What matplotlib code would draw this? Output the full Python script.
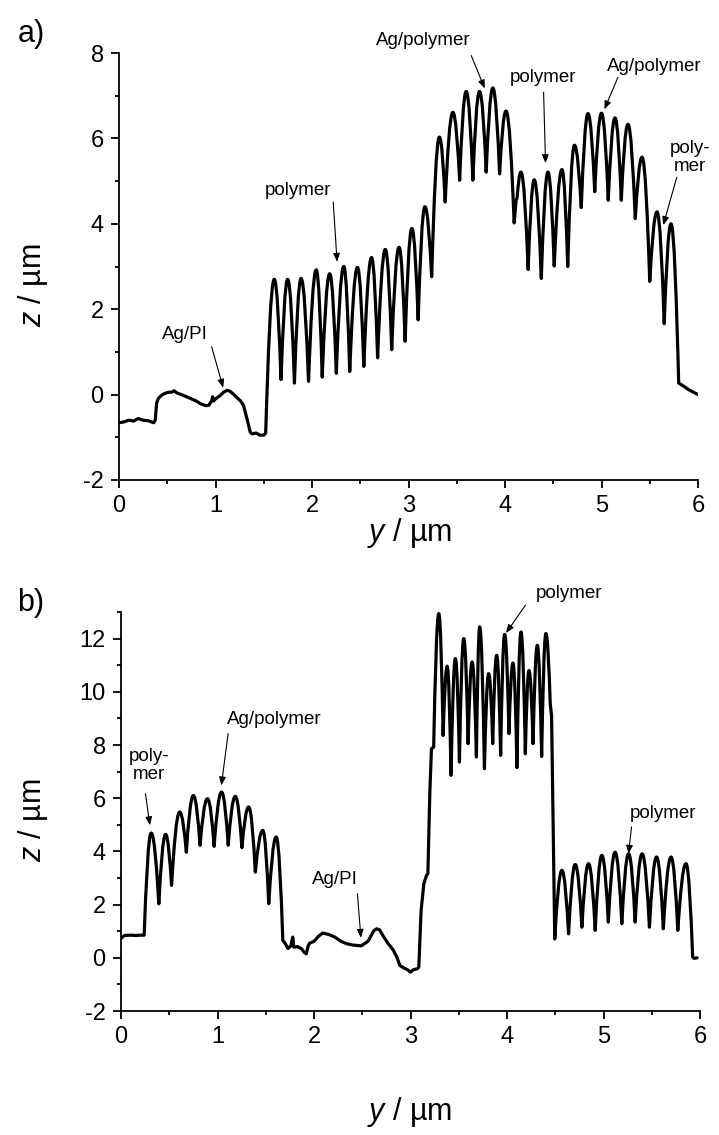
import matplotlib
matplotlib.use("Agg")
import matplotlib.pyplot as plt
from matplotlib.path import Path
from matplotlib.patches import PathPatch
from matplotlib.ticker import MultipleLocator

plt.rcParams['font.family'] = ['Liberation Sans', 'DejaVu Sans']
plt.rcParams['axes.unicode_minus'] = False
plt.rcParams['mathtext.fontset'] = 'custom'
plt.rcParams['mathtext.it'] = 'Liberation Sans:italic'
plt.rcParams['mathtext.rm'] = 'Liberation Sans'

# ---------------- data: panel a (profile vertices) ----------------
a_y = [0.00, 0.05, 0.10, 0.15, 0.20, 0.25, 0.30, 0.36, 0.375, 0.39, 0.41, 0.45, 0.50, 0.55,
       0.57, 0.60, 0.70, 0.80, 0.85, 0.90, 0.93, 0.96, 0.97, 0.98, 1.00, 1.05, 1.08, 1.12,
       1.15, 1.20, 1.26, 1.29, 1.33, 1.36, 1.38, 1.42, 1.46, 1.50, 1.52,
       1.609, 1.679, 1.748, 1.818, 1.887, 1.964, 2.044, 2.106, 2.183, 2.252, 2.329, 2.391,
       2.471, 2.537, 2.617, 2.680, 2.760, 2.826, 2.902, 2.965, 3.035, 3.100, 3.170, 3.240,
       3.320, 3.380, 3.460, 3.530, 3.598, 3.667, 3.736, 3.805, 3.874, 3.944, 4.010, 4.095,
       4.115, 4.125, 4.165, 4.240, 4.303, 4.376, 4.445, 4.510, 4.590, 4.650, 4.720, 4.790,
       4.860, 4.930, 5.000, 5.070, 5.140, 5.205, 5.274, 5.350, 5.420, 5.500, 5.575, 5.650,
       5.720, 5.800, 5.850, 5.900, 5.950, 6.000]
a_z = [-0.66, -0.64, -0.60, -0.62, -0.56, -0.60, -0.61, -0.66, -0.60, -0.20, -0.08, 0.00, 0.05, 0.06,
       0.09, 0.04, -0.05, -0.15, -0.22, -0.26, -0.25, -0.15, -0.05, -0.15, -0.10, -0.02, 0.05, 0.10,
       0.08, -0.02, -0.15, -0.25, -0.60, -0.88, -0.92, -0.90, -0.95, -0.95, -0.90,
       2.70, 0.35, 2.70, 0.27, 2.72, 0.31, 2.92, 0.41, 2.83, 0.50, 3.00, 0.54,
       2.98, 0.66, 3.21, 0.86, 3.40, 1.05, 3.45, 1.25, 3.89, 1.75, 4.40, 2.76,
       6.03, 4.51, 6.61, 5.02, 7.10, 5.02, 7.10, 5.21, 7.18, 5.17, 6.64, 4.02,
       4.55, 4.60, 5.21, 2.93, 5.03, 2.72, 5.21, 3.01, 5.27, 3.00, 5.84, 4.38,
       6.58, 4.75, 6.59, 4.55, 6.48, 4.55, 6.33, 4.12, 5.56, 2.65, 4.28, 1.66,
       4.00, 0.27, 0.20, 0.12, 0.06, 0.00]

# ---------------- data: panel b ----------------
b_y = [0.00, 0.02, 0.04, 0.10, 0.15, 0.20, 0.24,
       0.3125, 0.392, 0.462, 0.524, 0.608, 0.677, 0.750, 0.819, 0.896, 0.965, 1.042, 1.111,
       1.184, 1.253, 1.323, 1.392, 1.469, 1.531, 1.608, 1.677,
       1.70, 1.73, 1.76, 1.78, 1.79, 1.83, 1.87, 1.90, 1.92, 1.94, 1.955, 2.00, 2.05, 2.09,
       2.15, 2.215, 2.28, 2.337, 2.40, 2.49, 2.56, 2.62, 2.65, 2.68, 2.72, 2.77, 2.82, 2.858,
       2.89, 2.93, 2.97, 3.00, 3.03, 3.07, 3.086, 3.11, 3.138, 3.166, 3.18, 3.20, 3.217, 3.24,
       3.293, 3.338, 3.380, 3.420, 3.465, 3.507, 3.552, 3.597, 3.638, 3.683, 3.717, 3.766,
       3.810, 3.852, 3.893, 3.934, 3.976, 4.020, 4.062, 4.103, 4.145, 4.190, 4.228, 4.270,
       4.314, 4.359, 4.403, 4.448, 4.462, 4.495,
       4.569, 4.638, 4.707, 4.776, 4.845, 4.914, 4.983, 5.050, 5.120, 5.190, 5.260, 5.328,
       5.400, 5.476, 5.550, 5.620, 5.700, 5.770, 5.855, 5.924, 5.94, 5.97]
b_z = [0.72, 0.80, 0.84, 0.85, 0.84, 0.85, 0.85,
       4.69, 2.03, 4.64, 2.72, 5.48, 3.97, 6.10, 4.23, 5.98, 4.19, 6.23, 4.23,
       6.07, 4.14, 5.67, 3.22, 4.79, 2.03, 4.54, 0.65,
       0.55, 0.35, 0.45, 0.78, 0.40, 0.42, 0.34, 0.20, 0.15, 0.45, 0.55, 0.62, 0.82, 0.93,
       0.88, 0.78, 0.62, 0.53, 0.48, 0.45, 0.62, 1.02, 1.09, 1.05, 0.80, 0.53, 0.30, 0.03,
       -0.29, -0.38, -0.45, -0.54, -0.45, -0.41, -0.35, 1.78, 2.78, 3.10, 3.16, 6.17, 7.86, 7.92,
       12.94, 8.36, 10.96, 6.86, 11.25, 7.36, 12.00, 8.05, 11.12, 7.55, 12.44, 7.11,
       10.68, 8.05, 11.37, 7.61, 12.16, 8.43, 11.08, 7.15, 12.25, 7.67, 10.80, 8.05,
       11.75, 7.57, 12.19, 9.55, 9.10, 0.71,
       3.29, 0.90, 3.51, 1.15, 3.54, 1.03, 3.85, 1.34, 3.97, 1.28, 3.91, 1.34,
       3.91, 1.15, 3.79, 1.09, 3.79, 1.03, 3.54, 0.03, -0.02, 0.00]

# ---------------- annotations: (text, text x, text z, arrow start x, z, arrow tip x, z) ----------------
a_labels = ["Ag/PI", "polymer", "Ag/polymer", "polymer", "Ag/polymer", "poly-\nmer"]
a_text_xy = [(0.68, 1.40), (1.86, 4.79), (3.15, 8.29), (4.39, 7.43), (5.55, 7.69), (5.92, 5.56)]
a_arrow_from = [(0.96, 1.12), (2.22, 4.51), (3.65, 7.94), (4.40, 7.08), (5.17, 7.43), (5.78, 5.09)]
a_arrow_to = [(1.08, 0.16), (2.26, 3.11), (3.79, 7.17), (4.42, 5.42), (5.03, 6.68), (5.64, 3.97)]

b_labels = ["poly-\nmer", "Ag/polymer", "Ag/PI", "polymer", "polymer"]
b_text_xy = [(0.29, 7.23), (1.59, 8.95), (2.215, 2.93), (4.64, 13.69), (5.62, 5.44)]
b_arrow_from = [(0.253, 6.17), (1.11, 8.43), (2.45, 2.41), (4.19, 13.25), (5.29, 4.92)]
b_arrow_to = [(0.30, 4.98), (1.04, 6.48), (2.486, 0.75), (3.99, 12.21), (5.26, 3.91)]


def profile_path(xs, zs, prominence=0.8):
    """Build a path through the read vertices; arches over the peaks are drawn as curves."""
    n = len(xs)

    def is_peak(i):
        if i <= 0 or i >= n - 1:
            return False
        return zs[i] - max(zs[i - 1], zs[i + 1]) > 0 and zs[i] - min(zs[i - 1], zs[i + 1]) > prominence

    verts = [(xs[0], zs[0])]
    codes = [Path.MOVETO]
    for i in range(1, n):
        x0, z0, x1, z1 = xs[i - 1], zs[i - 1], xs[i], zs[i]
        p0, p1 = is_peak(i - 1), is_peak(i)
        if p0 != p1:
            dx = x1 - x0
            if p1:
                c1 = (x0 + 0.28 * dx, z0 + 0.5 * (z1 - z0))
                c2 = (x1 - 0.4 * dx, z1)
            else:
                c1 = (x0 + 0.4 * dx, z0)
                c2 = (x1 - 0.28 * dx, z1 + 0.5 * (z0 - z1))
            verts += [c1, c2, (x1, z1)]
            codes += [Path.CURVE4] * 3
        else:
            verts.append((x1, z1))
            codes.append(Path.LINETO)
    return Path(verts, codes)


W, H = 719, 1135
fig = plt.figure(figsize=(W / 100, H / 100), dpi=100)

def px_axes(left, top, right, bottom):
    return fig.add_axes([left / W, 1 - bottom / H, (right - left) / W, (bottom - top) / H])

ax_a = px_axes(119, 53, 698, 480)
ax_b = px_axes(121, 612, 700, 1011)

def style(ax, ylim):
    ax.set_xlim(0, 6)
    ax.set_ylim(*ylim)
    for s in ['top', 'right']:
        ax.spines[s].set_visible(False)
    for s in ['left', 'bottom']:
        ax.spines[s].set_linewidth(1.3)
    ax.xaxis.set_major_locator(MultipleLocator(1))
    ax.xaxis.set_minor_locator(MultipleLocator(0.5))
    ax.yaxis.set_major_locator(MultipleLocator(2))
    ax.yaxis.set_minor_locator(MultipleLocator(1))
    ax.tick_params(which='major', direction='out', length=6, width=1.3, labelsize=17, pad=5)
    ax.tick_params(which='minor', direction='out', length=3, width=1.3)

def annotate(ax, labels, text_xy, arrow_from, arrow_to):
    for lab, (tx, tz), (fx, fz), (ex, ez) in zip(labels, text_xy, arrow_from, arrow_to):
        ax.text(tx, tz, lab, ha='center', va='center', fontsize=13.5, linespacing=1.05)
        ax.annotate('', xy=(ex, ez), xytext=(fx, fz),
                    arrowprops=dict(arrowstyle='-|>,head_length=0.5,head_width=0.2',
                                    color='black', lw=0.8, shrinkA=0, shrinkB=0))

for ax, xs, zs, ylim in [(ax_a, a_y, a_z, (-2, 8)), (ax_b, b_y, b_z, (-2, 13))]:
    style(ax, ylim)
    ax.add_patch(PathPatch(profile_path(xs, zs), fill=False, edgecolor='black', lw=2.3,
                           joinstyle='round', capstyle='round'))

annotate(ax_a, a_labels, a_text_xy, a_arrow_from, a_arrow_to)
annotate(ax_b, b_labels, b_text_xy, b_arrow_from, b_arrow_to)

# panel letters and axis labels
fig.text(31 / W, 1 - 34 / H, 'a)', ha='center', va='center', fontsize=22)
fig.text(31 / W, 1 - 603 / H, 'b)', ha='center', va='center', fontsize=22)
for yc in (533, 1112):
    fig.text(410 / W, 1 - yc / H, r'$y$ / µm', ha='center', va='center', fontsize=22)
for yc in (285, 820):
    fig.text(33 / W, 1 - yc / H, r'$z$ / µm', ha='center', va='center', fontsize=22, rotation=90)

fig.savefig('out.png', dpi=100)
